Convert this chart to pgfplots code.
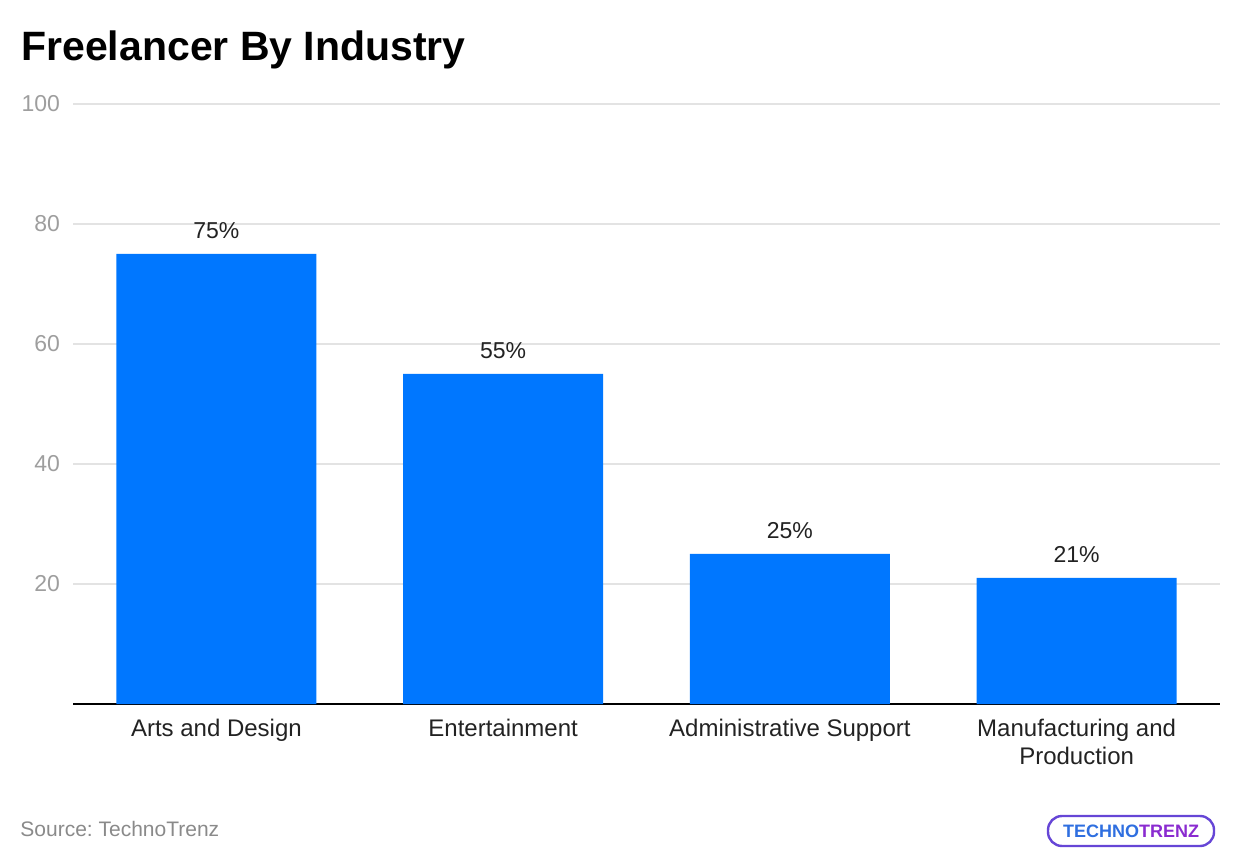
\documentclass[border=0pt]{standalone}
\usepackage{pgfplots}
\pgfplotsset{compat=1.18}
\usepackage{fontspec}
\setmainfont{Liberation Sans}
\definecolor{barblue}{HTML}{0077FF}
\definecolor{tickgray}{HTML}{9E9E9E}
\definecolor{gridgray}{HTML}{E3E3E3}
\definecolor{labeldark}{HTML}{222222}
\definecolor{srcgray}{HTML}{8A8A8A}
\definecolor{logoblue}{HTML}{2F6FE0}
\definecolor{logopurple}{HTML}{8A2BD0}
\begin{document}
\begin{tikzpicture}
\path[use as bounding box] (0pt,0pt) rectangle (620pt,431pt);
\node[anchor=base west, inner sep=0pt, font=\bfseries\fontsize{20.5}{24}\selectfont] at (10.5pt,400.5pt) {Freelancer By Industry};
\begin{axis}[
  at={(36.5pt,79pt)}, anchor=south west,
  scale only axis, width=573.5pt, height=300pt,
  xmin=-0.5, xmax=3.5, ymin=0, ymax=100,
  axis lines*=left, axis line style={-},
  y axis line style={draw=none},
  x axis line style={black, line width=1pt},
  ytick={20,40,60,80,100},
  xtick=data,
  xticklabels={Arts and Design, Entertainment, Administrative Support, {Manufacturing and\\Production}},
  xticklabel style={align=center, font=\fontsize{12}{14}\selectfont, text=labeldark, yshift=-4pt},
  yticklabel style={font=\fontsize{11.5}{14}\selectfont, text=tickgray, xshift=-3pt},
  major tick length=0pt,
  ymajorgrids, grid style={gridgray, line width=0.6pt},
  /pgf/number format/assume math mode=true,
  ybar, bar width=100pt, bar shift=0pt,
  nodes near coords={\pgfmathprintnumber{\pgfplotspointmeta}\%},
  every node near coord/.append style={font=\fontsize{11.5}{14}\selectfont, text=labeldark, yshift=4pt},
  clip=false,
]
\addplot[fill=barblue, draw=none] coordinates {(0,75) (1,55) (2,25) (3,21)};
\end{axis}
\node[anchor=base west, inner sep=0pt, font=\fontsize{10.5}{12}\selectfont, text=srcgray] at (10pt,13pt) {Source:~TechnoTrenz};
\node[draw=logopurple!60!logoblue, line width=1.2pt, rounded corners=7pt, minimum width=83pt, minimum height=15pt, inner sep=1pt, font=\bfseries\fontsize{9}{10}\selectfont] at (565.5pt,15.5pt) {\textcolor{logoblue}{TECHNO}\textcolor{logopurple}{TRENZ}};
\end{tikzpicture}
\end{document}
